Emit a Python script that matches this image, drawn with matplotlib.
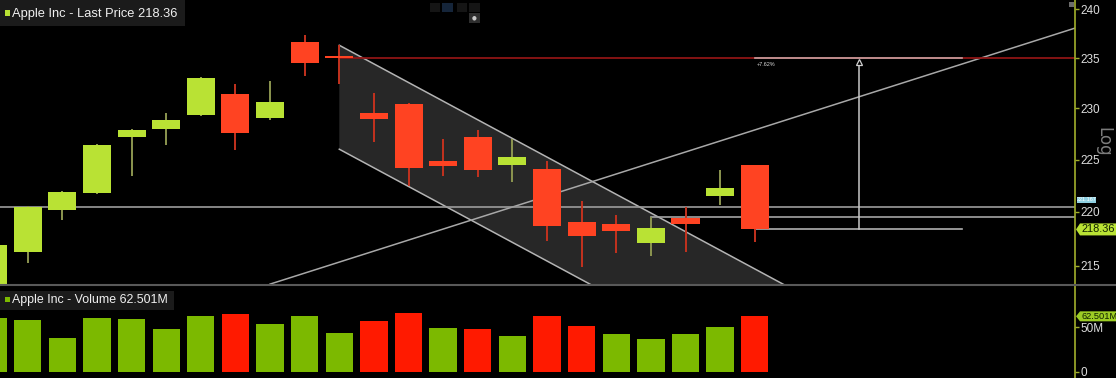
import numpy as np
import matplotlib
matplotlib.use("Agg")
import matplotlib.pyplot as plt
from matplotlib.patches import Rectangle, Polygon
from matplotlib.lines import Line2D

# --- data (daily candles, AAPL) ---
opens  = [212.0, 216.3, 220.2, 221.8, 227.2, 228.0, 229.3, 231.4, 229.0, 236.6, 235.2, 229.5,
          230.4, 224.9, 227.2, 224.5, 224.1, 219.1, 218.9, 217.1, 219.4, 221.5, 224.5]
highs  = [217.0, 220.6, 222.0, 226.5, 228.0, 229.5, 233.1, 232.4, 232.7, 237.3, 236.3, 231.5,
          230.5, 227.0, 227.9, 227.0, 224.9, 221.0, 219.7, 219.5, 220.5, 224.0, 224.5]
lows   = [211.0, 215.2, 219.2, 221.7, 223.4, 226.4, 229.2, 225.9, 228.8, 233.2, 232.4, 226.7,
          222.5, 223.4, 223.3, 222.8, 217.3, 214.9, 216.2, 215.9, 216.3, 220.7, 217.2]
closes = [216.9, 220.5, 221.9, 226.4, 227.9, 228.8, 233.0, 227.6, 230.6, 234.5, 235.0, 228.9,
          224.2, 224.4, 224.0, 225.2, 218.7, 217.7, 218.2, 218.5, 218.9, 222.3, 218.36]
volumes = [60.3, 58.7, 37.7, 60.9, 59.8, 48.5, 62.9, 64.8, 53.5, 62.9, 43.3, 57.6,
           66.3, 49.3, 48.5, 40.0, 62.5, 51.9, 42.2, 36.6, 42.2, 50.1, 62.501]  # millions

price_ticks = [215, 220, 225, 230, 235, 240]
volume_ticks = [0, 50]
volume_tick_labels = ["0", "50M"]

# drawn studies: (bar index, price)
channel_top = [(10, 236.3), (21.3, 215.9)]
channel_low_start = 226.0
trend_line = [(8.0, 213.3), (31.3, 238.1)]
red_level = (10, 235.0)
hline_full = 220.5
hline_part = (19, 219.5)
measure = (22, 28, 25, 235.0, 218.36)   # x from, x to, x of arrow, top, bottom
marker_tag = 221.167

W, H = 1116, 378
LIME = "#b9e234"
RED = "#ff4322"
VGREEN = "#7cb900"
VRED = "#ff1a00"
AXC = "#a3b02c"
FONT = ["Liberation Sans Narrow", "Liberation Sans", "DejaVu Sans"]
plt.rcParams["font.family"] = FONT


def fx(px):
    return px / W


def fy(py):
    return 1 - py / H


fig = plt.figure(figsize=(W / 100, H / 100), dpi=100, facecolor="black")
ax = fig.add_axes([0, fy(284), fx(1075), 284 / H], facecolor="black")
axv = fig.add_axes([0, 0, fx(1075), 93 / H], facecolor="black")

idx = np.arange(len(closes))
o = np.array(opens)
c = np.array(closes)
up = c >= o

# price panel
ax.set_yscale("log")
ax.set_xlim(0.2, 31.25)
ax.set_ylim(213.31, 240.93)

# channel
(x0, t0), (x1, t1) = channel_top
slope = np.log(t1 / t0) / (x1 - x0)
x_end = 26
top_end = t0 * np.exp(slope * (x_end - x0))
low_end = channel_low_start * np.exp(slope * (x_end - x0))
ax.add_patch(Polygon([(x0, t0), (x_end, top_end), (x_end, low_end), (x0, channel_low_start)],
                     closed=True, facecolor="#272727", edgecolor="none", zorder=1))
ax.plot([x0, x_end], [t0, top_end], color="#b4b4b4", lw=1.1, zorder=2)
ax.plot([x0, x_end], [channel_low_start, low_end], color="#b4b4b4", lw=1.1, zorder=2)

# trend line and levels
ax.plot([p[0] for p in trend_line], [p[1] for p in trend_line], color="#a8a8a8", lw=1.1, zorder=2)
ax.plot([red_level[0], 32], [red_level[1]] * 2, color="#8e1414", lw=1.3, zorder=2)
ax.axhline(hline_full, color="#9c9c9c", lw=1.2, zorder=2)
ax.plot([hline_part[0], 32], [hline_part[1]] * 2, color="#a4a4a4", lw=1.2, zorder=2)

# measure tool
mx0, mx1, mxa, mtop, mbot = measure
ax.plot([mx0, mx1], [mtop, mtop], color="#c8a2a2", lw=1.2, zorder=2)
ax.plot([mx0, mx1], [mbot, mbot], color="#b0b0b0", lw=1.2, zorder=2)
ax.plot([mxa, mxa], [mbot, mtop * 0.9985], color="#c8c8c8", lw=1.1, zorder=2)
ax.plot([mxa], [mtop * 0.9985], marker="^", ms=5, mfc="black", mec="#d0d0d0", mew=0.9, zorder=3)
ax.text(mx0 + 0.05, mtop * 0.9982, "+%.2f%%" % ((mtop / mbot - 1) * 100), color="#d8d8d8",
        fontsize=4, va="top", ha="left", zorder=3)

# candles
wick_cols = np.where(up, "#8c9650", "#c4321e")
body_cols = np.where(up, LIME, RED)
ax.vlines(idx, lows, highs, colors=wick_cols, lw=1.4, zorder=3)
ax.bar(idx, np.abs(c - o), bottom=np.minimum(o, c), width=0.81, color=body_cols, zorder=4)

# price axis
for s in ["top", "left", "bottom"]:
    ax.spines[s].set_visible(False)
ax.spines["right"].set_color(AXC)
ax.spines["right"].set_linewidth(1.2)
ax.set_xticks([])
ax.yaxis.tick_right()
ax.yaxis.set_minor_locator(matplotlib.ticker.NullLocator())
ax.set_yticks(price_ticks)
ax.set_yticklabels([str(t) for t in price_ticks])
ax.tick_params(axis="y", direction="out", length=3, width=1, color=AXC,
               labelcolor="#dcdcdc", labelsize=8.5, pad=1)

# volume panel
vup = np.r_[True, c[1:] >= c[:-1]]
axv.bar(idx, volumes, width=0.79, color=np.where(vup, VGREEN, VRED), zorder=2)
axv.set_xlim(0.2, 31.25)
axv.set_ylim(-7.11, 97.86)
for s in ["top", "left", "bottom"]:
    axv.spines[s].set_visible(False)
axv.spines["right"].set_color(AXC)
axv.spines["right"].set_linewidth(1.2)
axv.set_xticks([])
axv.yaxis.tick_right()
axv.set_yticks(volume_ticks)
axv.set_yticklabels(volume_tick_labels)
axv.tick_params(axis="y", direction="out", length=3, width=1, color=AXC,
                labelcolor="#dcdcdc", labelsize=8.5, pad=1)

# panel separator
fig.lines.append(Line2D([0, 1], [fy(284.5)] * 2, transform=fig.transFigure, color="#595959", lw=1.5))

# legends
fig.patches.append(Rectangle((0, fy(26)), fx(185), 26 / H, transform=fig.transFigure,
                             facecolor="#1b1b1b", edgecolor="none"))
fig.patches.append(Rectangle((fx(5), fy(15.5)), fx(5), 5 / H, transform=fig.transFigure,
                             facecolor=LIME, edgecolor="none"))
fig.text(fx(12), fy(13.5), "Apple Inc - Last Price %.2f" % closes[-1], color="#f0f0f0",
         fontsize=9.3, va="center", ha="left")
fig.patches.append(Rectangle((0, fy(310)), fx(174), 19 / H, transform=fig.transFigure,
                             facecolor="#1b1b1b", edgecolor="none"))
fig.patches.append(Rectangle((fx(5), fy(301.5)), fx(5), 5 / H, transform=fig.transFigure,
                             facecolor=VGREEN, edgecolor="none"))
fig.text(fx(12), fy(300), "Apple Inc - Volume %.3fM" % volumes[-1], color="#f0f0f0",
         fontsize=8.9, va="center", ha="left")

# "Log" label
fig.text(fx(1103), fy(142), "Log", color="#7c7c7c", fontsize=12, rotation=-90,
         va="center", ha="center", family="DejaVu Sans")


def tag(axis, value, text, face, tcol, hpx=12, fs=8.5):
    ypx = H - axis.transData.transform((0, value))[1]
    pts = [(1076, ypx), (1080, ypx - hpx / 2), (W, ypx - hpx / 2), (W, ypx + hpx / 2), (1080, ypx + hpx / 2)]
    fig.patches.append(Polygon([(fx(a), fy(b)) for a, b in pts], closed=True,
                               transform=fig.transFigure, facecolor=face, edgecolor="none"))
    fig.text(fx(1081), fy(ypx), text, color=tcol, fontsize=fs, va="center", ha="left")


tag(ax, closes[-1], "%.2f" % closes[-1], LIME, "#102000", fs=7.9)
tag(axv, volumes[-1], "%.3fM" % volumes[-1], "#9ccc24", "#102000", hpx=10, fs=6.7)

ypx = H - ax.transData.transform((0, marker_tag))[1]
fig.patches.append(Rectangle((fx(1077), fy(ypx + 3)), fx(19), 6 / H, transform=fig.transFigure,
                             facecolor="#8fd0e2", edgecolor="none"))
fig.text(fx(1086.5), fy(ypx), "%.3f" % marker_tag, color="white", fontsize=4, va="center", ha="center")

# toolbar bits at the top
for x0b, x1b, col in [(430, 440, "#151515"), (442, 453, "#15253a"), (457, 467, "#151515"), (469, 480, "#151515")]:
    fig.patches.append(Rectangle((fx(x0b), fy(12)), fx(x1b - x0b), 9 / H, transform=fig.transFigure,
                                 facecolor=col, edgecolor="none"))
fig.patches.append(Rectangle((fx(469), fy(23)), fx(11), 10 / H, transform=fig.transFigure,
                             facecolor="#2e2e2e", edgecolor="none"))
fig.text(fx(474.5), fy(18), "\u25cf", color="#c8c8c8", fontsize=4, va="center", ha="center",
         family="DejaVu Sans")
fig.patches.append(Rectangle((fx(1069), fy(7)), fx(5), 5 / H, transform=fig.transFigure,
                             facecolor="#6c6c6c", edgecolor="none"))

fig.savefig("out.png", dpi=100, facecolor="black")
